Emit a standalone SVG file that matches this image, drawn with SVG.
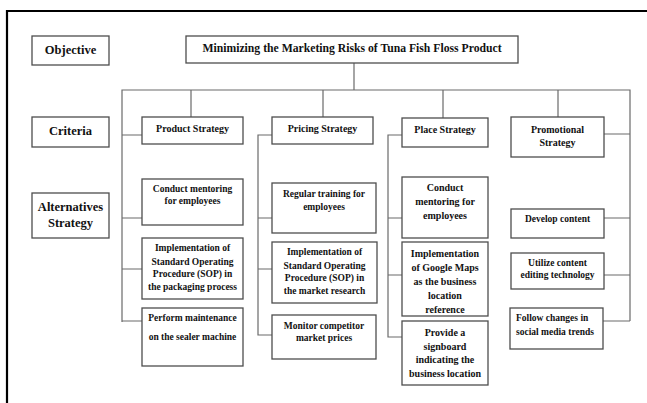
<svg xmlns="http://www.w3.org/2000/svg" width="647" height="403" viewBox="0 0 647 403">
  <style>
    .frame { fill: none; stroke: #000; stroke-width: 2.2; }
    .box { fill: #fff; stroke: #4d4d4d; stroke-width: 1.3; }
    .wire { fill: none; stroke: #6a6a6a; stroke-width: 1.2; }
    text { font-family: "Liberation Serif", "Times New Roman", serif; font-weight: bold; fill: #111; text-anchor: middle; }
    .lvl { font-size: 12.5px; }
    .goal { font-size: 11.7px; }
    .crit { font-size: 10px; }
    .alt { font-size: 9.5px; }
    .alt10 { font-size: 10px; }
  </style>
  <rect width="647" height="403" fill="#fff"/>

  <!-- outer frame (top and left edges) -->
  <path class="frame" d="M7,404 V11 H648"/>

  <!-- connectors -->
  <g id="connectors">
    <path class="wire" d="M354,63 V90"/>
    <path class="wire" d="M122,322 V90 H630 V321"/>
    <path class="wire" d="M191,90 V117 M323,90 V117 M443,90 V118 M558,90 V117"/>
    <!-- product strategy branch -->
    <path class="wire" d="M122,135 H142 M122,218 H142 M122,269 H142 M122,321 H142"/>
    <!-- pricing strategy branch -->
    <path class="wire" d="M272,135 H258 V335 H272 M258,218 H272 M258,269 H272"/>
    <!-- place strategy branch -->
    <path class="wire" d="M402,135 H388 V337 H402 M388,218 H402 M388,275 H402"/>
    <!-- promotional strategy branch -->
    <path class="wire" d="M604,134 H630 M604,218 H630 M604,275 H630 M603,321 H630"/>
  </g>

  <!-- level labels -->
  <g id="objective">
    <rect class="box" x="32" y="36" width="77" height="29"/>
    <text class="lvl" x="70.5" y="53.5">Objective</text>
  </g>
  <g id="criteria">
    <rect class="box" x="32" y="117" width="77" height="30"/>
    <text class="lvl" x="70.5" y="134.5">Criteria</text>
  </g>
  <g id="alternatives">
    <rect class="box" x="32" y="193" width="77" height="45"/>
    <text class="lvl" x="70.5" y="210.5">Alternatives</text>
    <text class="lvl" x="70.5" y="226.5">Strategy</text>
  </g>

  <!-- goal -->
  <g id="goal">
    <rect class="box" x="186" y="36" width="332" height="27"/>
    <text class="goal" x="352" y="51.5">Minimizing the Marketing Risks of Tuna Fish Floss Product</text>
  </g>

  <!-- criteria -->
  <g id="product-strategy">
    <rect class="box" x="142" y="117" width="101" height="27"/>
    <text class="crit" x="192.5" y="131.5">Product Strategy</text>
  </g>
  <g id="pricing-strategy">
    <rect class="box" x="272" y="117" width="101" height="27"/>
    <text class="crit" x="322.5" y="131.5">Pricing Strategy</text>
  </g>
  <g id="place-strategy">
    <rect class="box" x="402" y="118" width="86" height="29"/>
    <text class="crit" x="445" y="132.5">Place Strategy</text>
  </g>
  <g id="promotional-strategy">
    <rect class="box" x="511" y="117" width="93" height="40"/>
    <text class="crit" x="557.5" y="132.5">Promotional</text>
    <text class="crit" x="557.5" y="145.5">Strategy</text>
  </g>

  <!-- product alternatives -->
  <g id="product-mentoring">
    <rect class="box" x="142" y="179" width="101" height="46"/>
    <text class="alt" x="192.5" y="192.3">Conduct mentoring</text>
    <text class="alt" x="192.5" y="204.3">for employees</text>
  </g>
  <g id="product-sop">
    <rect class="box" x="142" y="238" width="101" height="61"/>
    <text class="alt" x="192.5" y="251.3">Implementation of</text>
    <text class="alt" x="192.5" y="265.3">Standard Operating</text>
    <text class="alt" x="192.5" y="277.3">Procedure (SOP) in</text>
    <text class="alt" x="192.5" y="290.3">the packaging process</text>
  </g>
  <g id="product-maintenance">
    <rect class="box" x="142" y="308" width="101" height="58"/>
    <text class="alt" x="192.5" y="321.3">Perform maintenance</text>
    <text class="alt" x="192.5" y="340.3">on the sealer machine</text>
  </g>

  <!-- pricing alternatives -->
  <g id="pricing-training">
    <rect class="box" x="272" y="183" width="104" height="50"/>
    <text class="alt" x="324" y="197.3">Regular training for</text>
    <text class="alt" x="324" y="210.3">employees</text>
  </g>
  <g id="pricing-sop">
    <rect class="box" x="272" y="242" width="105" height="61"/>
    <text class="alt" x="324.5" y="255.3">Implementation of</text>
    <text class="alt" x="324.5" y="269.3">Standard Operating</text>
    <text class="alt" x="324.5" y="281.3">Procedure (SOP) in</text>
    <text class="alt" x="324.5" y="294.3">the market research</text>
  </g>
  <g id="pricing-monitor">
    <rect class="box" x="272" y="315" width="104" height="44"/>
    <text class="alt" x="324" y="329.3">Monitor competitor</text>
    <text class="alt" x="324" y="341.3">market prices</text>
  </g>

  <!-- place alternatives -->
  <g id="place-mentoring">
    <rect class="box" x="402" y="177" width="86" height="61"/>
    <text class="alt10" x="445" y="190.5">Conduct</text>
    <text class="alt10" x="445" y="204.5">mentoring for</text>
    <text class="alt10" x="445" y="218.5">employees</text>
  </g>
  <g id="place-maps">
    <rect class="box" x="402" y="242" width="86" height="74"/>
    <text class="alt10" x="445" y="256.5">Implementation</text>
    <text class="alt10" x="445" y="270.5">of Google Maps</text>
    <text class="alt10" x="445" y="284.5">as the business</text>
    <text class="alt10" x="445" y="298.5">location</text>
    <text class="alt10" x="445" y="312.5">reference</text>
  </g>
  <g id="place-signboard">
    <rect class="box" x="402" y="321" width="86" height="64"/>
    <text class="alt10" x="445" y="335.5">Provide a</text>
    <text class="alt10" x="445" y="349.5">signboard</text>
    <text class="alt10" x="445" y="362.5">indicating the</text>
    <text class="alt10" x="445" y="376.5">business location</text>
  </g>

  <!-- promotional alternatives -->
  <g id="promo-content">
    <rect class="box" x="511" y="209" width="93" height="29"/>
    <text class="alt" x="557.5" y="222.3">Develop content</text>
  </g>
  <g id="promo-editing">
    <rect class="box" x="511" y="253" width="93" height="36"/>
    <text class="alt" x="557.5" y="266.3">Utilize content</text>
    <text class="alt" x="557.5" y="278.3">editing technology</text>
  </g>
  <g id="promo-trends">
    <rect class="box" x="510" y="308" width="93" height="41"/>
    <text class="alt" x="516" y="321.3" style="text-anchor:start">Follow changes in</text>
    <text class="alt" x="516" y="335.3" style="text-anchor:start">social media trends</text>
  </g>
</svg>
